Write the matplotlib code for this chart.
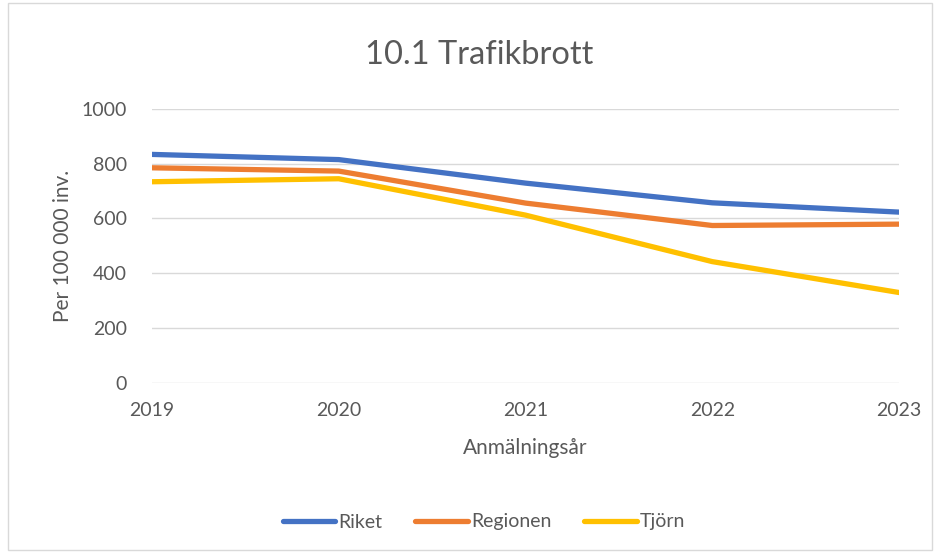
import matplotlib
matplotlib.use("Agg")
import matplotlib.pyplot as plt
from matplotlib.patches import Rectangle

years = [2019, 2020, 2021, 2022, 2023]
riket = [834, 815, 729, 657, 623]
regionen = [785, 773, 656, 574, 579]
tjorn = [734, 745, 612, 442, 329]

plt.rcParams['font.family'] = ['Lato', 'DejaVu Sans']
grey = '#595959'

fig = plt.figure(figsize=(9.4, 5.53), dpi=100)
ax = fig.add_axes([152 / 940, 1 - 382.5 / 553, (899 - 152) / 940, (382.5 - 109) / 553])

ax.plot(years, riket, color='#4472C4', lw=3.8, label='Riket', solid_capstyle='round')
ax.plot(years, regionen, color='#ED7D31', lw=3.8, label='Regionen', solid_capstyle='round')
ax.plot(years, tjorn, color='#FFC000', lw=3.8, label='Tjörn', solid_capstyle='round')

ax.set_xlim(2019, 2023)
ax.set_ylim(0, 1000)
ax.set_xticks(years)
ax.set_yticks(range(0, 1001, 200))
ax.grid(axis='y', color='#D9D9D9', lw=1)
ax.set_axisbelow(True)
for s in ax.spines.values():
    s.set_visible(False)
ax.tick_params(length=0, labelsize=14, colors=grey, pad=18)
ax.tick_params(axis='x', pad=14)

ax.set_xlabel('Anmälningsår', fontsize=15, color=grey, labelpad=14)
ax.set_ylabel('Per 100 000 inv.', fontsize=15, color=grey, labelpad=6)
fig.text(479 / 940, 1 - 55 / 553, '10.1 Trafikbrott', ha='center', va='center',
         fontsize=23.5, color=grey)

leg = fig.legend(loc='center', bbox_to_anchor=(484 / 940, 1 - 522 / 553), ncol=3,
                 frameon=False, fontsize=14, handlelength=2.7, handletextpad=0.15,
                 columnspacing=1.7)
for t in leg.get_texts():
    t.set_color(grey)

fig.patches.append(Rectangle((8 / 940, 0.005), 924 / 940, 0.99, transform=fig.transFigure,
                             fill=False, edgecolor='#D9D9D9', lw=1))

fig.savefig('out.png', dpi=100)
